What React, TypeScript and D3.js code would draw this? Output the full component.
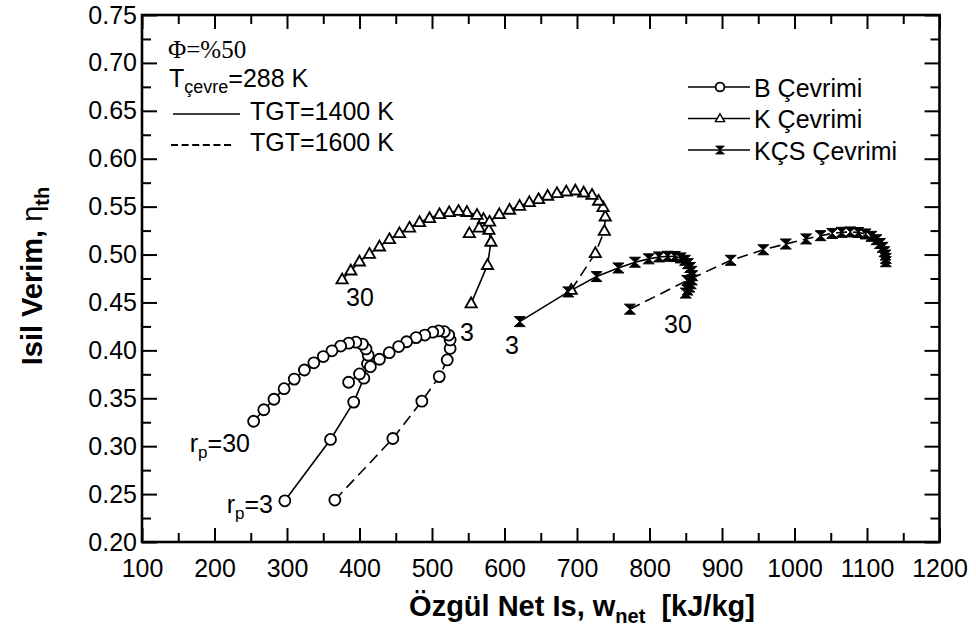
import React, { useEffect, useRef } from 'react'
import * as d3 from 'd3'

type Pt = [number, number]

// [w_net (kJ/kg), eta_th], rp = 3 ... 30
const bCycle1400: Pt[] = [
  [297, 0.243], [360, 0.307], [392, 0.346], [406, 0.371], [411, 0.386],
  [412, 0.395], [409, 0.4015], [404, 0.4065], [395, 0.4085], [385, 0.4075],
  [374, 0.4045], [362, 0.3995], [350, 0.3935], [337, 0.387], [324, 0.3795],
  [310, 0.370], [296, 0.360], [282, 0.349], [268, 0.338], [254, 0.326],
]
const bCycle1600: Pt[] = [
  [366, 0.2438], [446, 0.308], [486, 0.347], [510, 0.3726], [521, 0.390],
  [525, 0.402], [525, 0.4109], [523, 0.416], [517, 0.4195], [509, 0.4203],
  [501, 0.419], [490, 0.416], [478, 0.4133], [465, 0.409], [454, 0.404],
  [441, 0.3976], [427.5, 0.3907], [415, 0.383], [400, 0.3754], [385, 0.3667],
]
const kCycle1400: Pt[] = [
  [554, 0.449], [576.6, 0.489], [581.3, 0.5132], [578.5, 0.5257], [571, 0.537],
  [562, 0.5413], [548.2, 0.5443], [536.6, 0.5455], [523.7, 0.5441], [510.4, 0.542],
  [496.6, 0.5379], [482.8, 0.5337], [469, 0.528], [455.1, 0.5222], [441.3, 0.516],
  [427.5, 0.5083], [413.7, 0.5006], [399.9, 0.4926], [388, 0.4832], [376, 0.474],
]
const kCycle1600: Pt[] = [
  [692, 0.463], [725.3, 0.5014], [737.7, 0.5246], [739, 0.5396], [735.9, 0.5494],
  [729.8, 0.556], [720.7, 0.5622], [709.2, 0.5646], [697.7, 0.5667], [685.2, 0.5657],
  [672.3, 0.564], [659.5, 0.5612], [647, 0.5577], [634.2, 0.5546], [620.8, 0.5507],
  [607, 0.5466], [592.8, 0.542], [579.4, 0.5343], [565, 0.528], [551.5, 0.5222],
]
const kcsCycle1400: Pt[] = [
  [621, 0.430], [688, 0.461], [727, 0.477], [757, 0.486], [780, 0.492],
  [799, 0.4955], [813, 0.4975], [825, 0.4982], [835, 0.498], [843, 0.4965],
  [849, 0.494], [853, 0.4905], [856, 0.4865], [858, 0.4825], [859, 0.478],
  [858.5, 0.4735], [857, 0.4695], [855, 0.466], [852.5, 0.463], [850, 0.4598],
]
const kcsCycle1600: Pt[] = [
  [773, 0.443], [852, 0.473], [912, 0.494], [957, 0.505], [988, 0.511],
  [1016, 0.5163], [1036, 0.5197], [1052, 0.522], [1065, 0.5232], [1077, 0.5236],
  [1088, 0.523], [1098, 0.5215], [1106, 0.519], [1113, 0.5155], [1118, 0.5115],
  [1121.5, 0.5075], [1124, 0.503], [1125.5, 0.4995], [1126, 0.496], [1126, 0.4925],
]

const xMajor = d3.range(100, 1201, 100)
const xMinor = d3.range(150, 1200, 100)
const yMajor = d3.range(0, 12).map((i) => 0.2 + i * 0.05)
const yMinor = d3.range(0, 11).map((i) => 0.225 + i * 0.05)

const legendItems = [
  { name: 'B Çevrimi', marker: 'circle' },
  { name: 'K Çevrimi', marker: 'triangle' },
  { name: 'KÇS Çevrimi', marker: 'bowtie' },
]

const FONT = "'Liberation Sans', Arial, sans-serif"
const TRI = 'M0,-5.5L5.2,3.6L-5.2,3.6Z'
const BOW = 'M-5.5,-5L5.5,-5L0,0L5.5,5L-5.5,5L0,0Z'

const App = () => {
  const ref = useRef<SVGSVGElement>(null)

  useEffect(() => {
    const svg = d3.select(ref.current)
    svg.selectAll('*').remove()

    const left = 142, right = 939.5, top = 15, bottom = 542
    const x = d3.scaleLinear().domain([100, 1200]).range([left, right])
    const y = d3.scaleLinear().domain([0.2, 0.75]).range([bottom, top])

    const axisStyle = (g: any) => {
      g.select('.domain').remove()
      g.selectAll('line').attr('stroke', '#000').attr('stroke-width', 2)
      g.selectAll('text').attr('font-family', FONT).attr('font-size', 25).attr('fill', '#000')
    }

    // major ticks with labels
    svg.append('g').attr('transform', `translate(0,${bottom})`)
      .call(d3.axisBottom(x).tickValues(xMajor).tickSize(-14).tickPadding(17).tickFormat(d3.format('d')))
      .call(axisStyle)
    svg.append('g').attr('transform', `translate(${left},0)`)
      .call(d3.axisLeft(y).tickValues(yMajor).tickSize(-15).tickPadding(5).tickFormat(d3.format('.2f')))
      .call(axisStyle)
    svg.append('g').attr('transform', `translate(0,${top})`)
      .call(d3.axisTop(x).tickValues(xMajor).tickSize(-14).tickFormat(() => ''))
      .call(axisStyle)
    svg.append('g').attr('transform', `translate(${right},0)`)
      .call(d3.axisRight(y).tickValues(yMajor).tickSize(-15).tickFormat(() => ''))
      .call(axisStyle)
    // minor ticks
    svg.append('g').attr('transform', `translate(0,${bottom})`)
      .call(d3.axisBottom(x).tickValues(xMinor).tickSize(-9).tickFormat(() => '')).call(axisStyle)
    svg.append('g').attr('transform', `translate(0,${top})`)
      .call(d3.axisTop(x).tickValues(xMinor).tickSize(-9).tickFormat(() => '')).call(axisStyle)
    svg.append('g').attr('transform', `translate(${left},0)`)
      .call(d3.axisLeft(y).tickValues(yMinor).tickSize(-9).tickFormat(() => '')).call(axisStyle)
    svg.append('g').attr('transform', `translate(${right},0)`)
      .call(d3.axisRight(y).tickValues(yMinor).tickSize(-9).tickFormat(() => '')).call(axisStyle)

    svg.append('rect')
      .attr('x', left).attr('y', top).attr('width', right - left).attr('height', bottom - top)
      .attr('fill', 'none').attr('stroke', '#000').attr('stroke-width', 2.6)

    const line = d3.line<Pt>().x((d) => x(d[0])).y((d) => y(d[1]))

    const series = [
      { data: bCycle1400, dash: null, marker: 'circle' },
      { data: bCycle1600, dash: '11,6', marker: 'circle' },
      { data: kCycle1400, dash: null, marker: 'triangle' },
      { data: kCycle1600, dash: '11,6', marker: 'triangle' },
      { data: kcsCycle1400, dash: null, marker: 'bowtie' },
      { data: kcsCycle1600, dash: '11,6', marker: 'bowtie' },
    ]

    const drawMarker = (g: any, marker: string, size = 1) => {
      if (marker === 'circle') {
        g.append('circle').attr('r', 5.5 * size).attr('fill', '#fff').attr('stroke', '#000').attr('stroke-width', 1.8)
      } else if (marker === 'triangle') {
        g.append('path').attr('d', TRI).attr('transform', `scale(${1.08 * size})`)
          .attr('fill', '#fff').attr('stroke', '#000').attr('stroke-width', 1.7)
      } else {
        g.append('path').attr('d', BOW).attr('transform', `scale(${size})`)
          .attr('fill', '#000').attr('stroke', '#000').attr('stroke-width', 1)
      }
    }

    series.forEach((s) => {
      svg.append('path').datum(s.data).attr('d', line)
        .attr('fill', 'none').attr('stroke', '#000').attr('stroke-width', 1.6)
        .attr('stroke-dasharray', s.dash)
    })
    series.forEach((s) => {
      svg.append('g').selectAll('g').data(s.data).enter().append('g')
        .attr('transform', (d) => `translate(${x(d[0])},${y(d[1])})`)
        .each(function () { drawMarker(d3.select(this), s.marker) })
    })

    // point labels
    const txt = (px: number, py: number, anchor = 'middle') =>
      svg.append('text').attr('x', px).attr('y', py).attr('text-anchor', anchor)
        .attr('font-family', FONT).attr('font-size', 25).attr('fill', '#000')

    const rp = (px: number, py: number, val: string) => {
      const t = txt(px, py, 'end')
      t.append('tspan').text('r')
      t.append('tspan').attr('font-size', 17).attr('dy', 6).text('p')
      t.append('tspan').attr('dy', -6).text('=' + val)
    }
    rp(250, 452, '30')
    rp(273, 513, '3')
    txt(360, 306).text('30')
    txt(467, 341).text('3')
    txt(512, 354).text('3')
    txt(678, 333).text('30')

    // top-left notes
    svg.append('text').attr('x', 168).attr('y', 58)
      .attr('font-family', "'Liberation Serif', 'Times New Roman', serif").attr('font-size', 25).text('Φ=%50')
    const tc = txt(169, 87, 'start')
    tc.append('tspan').text('T')
    tc.append('tspan').attr('font-size', 18).attr('dy', 6).text('çevre')
    tc.append('tspan').attr('dy', -6).text('=288 K')
    svg.append('line').attr('x1', 173).attr('x2', 240).attr('y1', 114).attr('y2', 114)
      .attr('stroke', '#000').attr('stroke-width', 1.6)
    txt(250, 120, 'start').text('TGT=1400 K')
    svg.append('line').attr('x1', 171).attr('x2', 234).attr('y1', 145).attr('y2', 145)
      .attr('stroke', '#000').attr('stroke-width', 1.8).attr('stroke-dasharray', '7,3.6')
    txt(250, 151, 'start').text('TGT=1600 K')

    // legend
    const lg = svg.append('g').selectAll('g').data(legendItems).enter().append('g')
      .attr('transform', (_d, i) => `translate(0,${87 + i * 31.5})`)
    lg.append('line').attr('x1', 688).attr('x2', 750).attr('stroke', '#000').attr('stroke-width', 1.6)
    lg.append('g').attr('transform', 'translate(720,0)')
      .each(function (d) { drawMarker(d3.select(this), d.marker, 0.8) })
    lg.append('text').attr('x', 754).attr('y', 9.5)
      .attr('font-family', FONT).attr('font-size', 25).text((d) => d.name)

    // axis titles
    const xt = svg.append('text').attr('x', 582).attr('y', 616).attr('text-anchor', 'middle')
      .attr('font-family', FONT).attr('font-size', 29).attr('font-weight', 'bold')
    xt.append('tspan').text('Özgül Net Is, w')
    xt.append('tspan').attr('font-size', 20).attr('dy', 7).text('net')
    xt.append('tspan').attr('dy', -7).attr('xml:space', 'preserve').text('  [kJ/kg]')

    const yt = svg.append('text').attr('transform', 'translate(42,276) rotate(-90)').attr('text-anchor', 'middle')
      .attr('font-family', FONT).attr('font-size', 29).attr('font-weight', 'bold')
    yt.append('tspan').text('Isil Verim, ')
    yt.append('tspan').attr('font-weight', 'normal').text('η')
    yt.append('tspan').attr('font-size', 20).attr('dy', 7).text('th')
  }, [])

  return (
    <svg ref={ref} width={976} height={644}
      style={{ position: 'absolute', left: 0, top: 0, background: '#fff' }} />
  )
}

export default App
